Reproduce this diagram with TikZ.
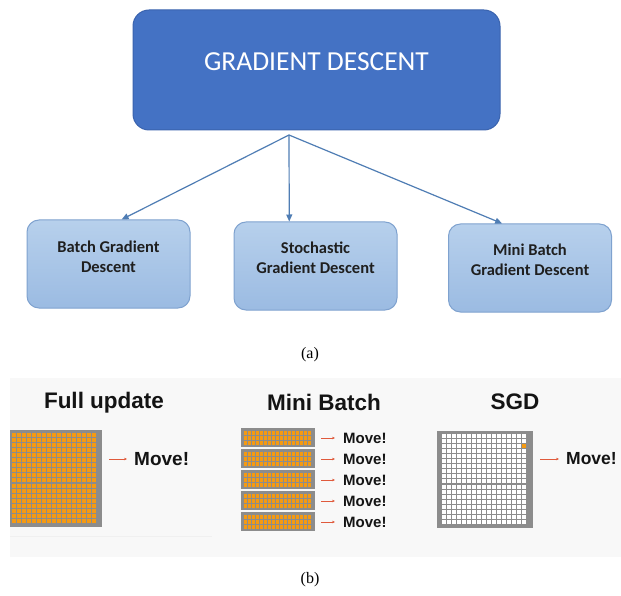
\documentclass[tikz,border=0pt]{standalone}
\usepackage{fontspec}
\setmainfont{Liberation Serif}
\newfontfamily\calib{Carlito}
\newfontfamily\arialf{Liberation Sans}
\usetikzlibrary{arrows.meta,calc}
\definecolor{gdblue}{HTML}{4472C4}
\definecolor{gdedge}{HTML}{3A63AE}
\definecolor{subtop}{HTML}{B7D0EC}
\definecolor{subbot}{HTML}{9BBBE2}
\definecolor{subedge}{HTML}{7FA2CF}
\definecolor{connc}{HTML}{4F7DB4}
\definecolor{cello}{HTML}{F59A12}
\definecolor{cellg}{HTML}{8C8C8C}
\definecolor{panelbg}{HTML}{F8F8F8}
\definecolor{mvred}{HTML}{E05A3C}
\tikzset{
  topbox/.style={draw=gdedge, line width=1pt, fill=gdblue, rounded corners=16pt,
    minimum width=367pt, minimum height=120pt, inner sep=0pt},
  toptext/.style={text=white, font=\calib\fontsize{27.5}{32}\selectfont, inner sep=0pt},
  subbox/.style={draw=subedge, line width=1pt, top color=subtop, bottom color=subbot,
    rounded corners=12pt, minimum width=163pt, minimum height=88pt, inner sep=0pt},
  subtext/.style={text=black!88, font=\calib\fontseries{b}\fontsize{16.5}{20}\selectfont,
    align=center, inner sep=0pt},
  conn/.style={draw=connc, line width=1.2pt, -{Triangle[length=7pt,width=6pt]}},
  caption/.style={font=\fontsize{16}{19}\selectfont, inner sep=0pt},
  ptitle/.style={font=\arialf\bfseries\fontsize{22.5}{26}\selectfont, text=black!92, inner sep=0pt},
  movetxt/.style={font=\arialf\bfseries, text=black!92, inner sep=0pt, anchor=west},
  mvarrow/.style={draw=mvred, line width=0.8pt, -{Stealth[length=3pt,width=2.6pt]}},
  grayblk/.style={fill=cellg, draw=none, inner sep=0pt}
}
\begin{document}
\begin{tikzpicture}[x=1pt,y=-1pt]
\useasboundingbox (0,0) rectangle (621,596);
\fill[white] (0,0) rectangle (621,596);

% ---------- (a) ----------
\node[topbox] (gd) at (316.5,70) {};
\node[toptext] (gdt) at (316.5,62) {GRADIENT DESCENT};

\node[subbox] (b1) at (108.5,264) {};
\node[subtext] (t1) at (108.5,257) {Batch Gradient\\Descent};
\node[subbox] (b2) at (315.5,266) {};
\node[subtext] (t2) at (315.5,258) {Stochastic\\Gradient Descent};
\node[subbox] (b3) at (530,268) {};
\node[subtext] (t3) at (530,260) {Mini Batch\\Gradient Descent};

\coordinate (o) at (289,135);
\draw[conn] (o) -- ($(b1.north west)!0.58!(b1.north east)$);
\draw[conn] (o) -- ($(b2.north west)!0.34!(b2.north east)$);
\draw[conn] (o) -- ($(b3.north west)!0.33!(b3.north east)$);

\node[caption] (capa) at (310,355) {(a)};

% ---------- (b) ----------
\fill[panelbg] (10,378) rectangle (621,557);
\draw[black!6, line width=0.8pt] (10,536) -- (212,536);

\node[ptitle] (tf) at (104,403) {Full update};
\node[ptitle] (tm) at (324,402) {Mini Batch};
\node[ptitle] (ts) at (515,402) {SGD};

% Full update square
\node[grayblk, minimum width=92pt, minimum height=97pt] (fsq) at (56,478.5) {};
\foreach \i in {0,...,16}{
  \foreach \j in {0,...,17}{
    \fill[cello] ({12+\i*5},{433+\j*5+(\j>9)*1}) rectangle ++(4,4);
  }
}
\node[movetxt, font=\arialf\bfseries\fontsize{19}{22}\selectfont] (mf) at (134,459) {Move!};
\draw[mvarrow] ($(mf.west)+(-25,0)$) -- ($(mf.west)+(-7,0)$);

% Mini batch bars
\foreach \k/\yy in {1/428,2/449,3/470,4/491,5/512}{
  \node[grayblk, minimum width=74pt, minimum height=19pt] (mb\k) at (278,\yy+9.5) {};
  \foreach \i in {0,...,16}{
    \foreach \j in {0,1,2}{
      \fill[cello] ({244+\i*4},{\yy+3+\j*5}) rectangle ++(3,4);
    }
  }
  \node[movetxt, font=\arialf\bfseries\fontsize{15}{18}\selectfont] (mm\k) at (343,\yy+10) {Move!};
  \draw[mvarrow] ($(mm\k.west)+(-22,0)$) -- ($(mm\k.west)+(-8,0)$);
}

% SGD square
\node[grayblk, minimum width=96pt, minimum height=97pt] (ssq) at (485,479.5) {};
\foreach \i in {0,...,16}{
  \foreach \j in {0,...,17}{
    \fill[white] ({442+\i*5},{434+\j*5+(\j>9)*1}) rectangle ++(4,4);
  }
}
\fill[cello] ({442+16*5},{434+2*5}) rectangle ++(4,4);
\node[movetxt, font=\arialf\bfseries\fontsize{17.5}{21}\selectfont] (ms) at (566,459) {Move!};
\draw[mvarrow] ($(ms.west)+(-26,0)$) -- ($(ms.west)+(-7,0)$);

\node[caption] (capb) at (310,580) {(b)};
\end{tikzpicture}
\end{document}
